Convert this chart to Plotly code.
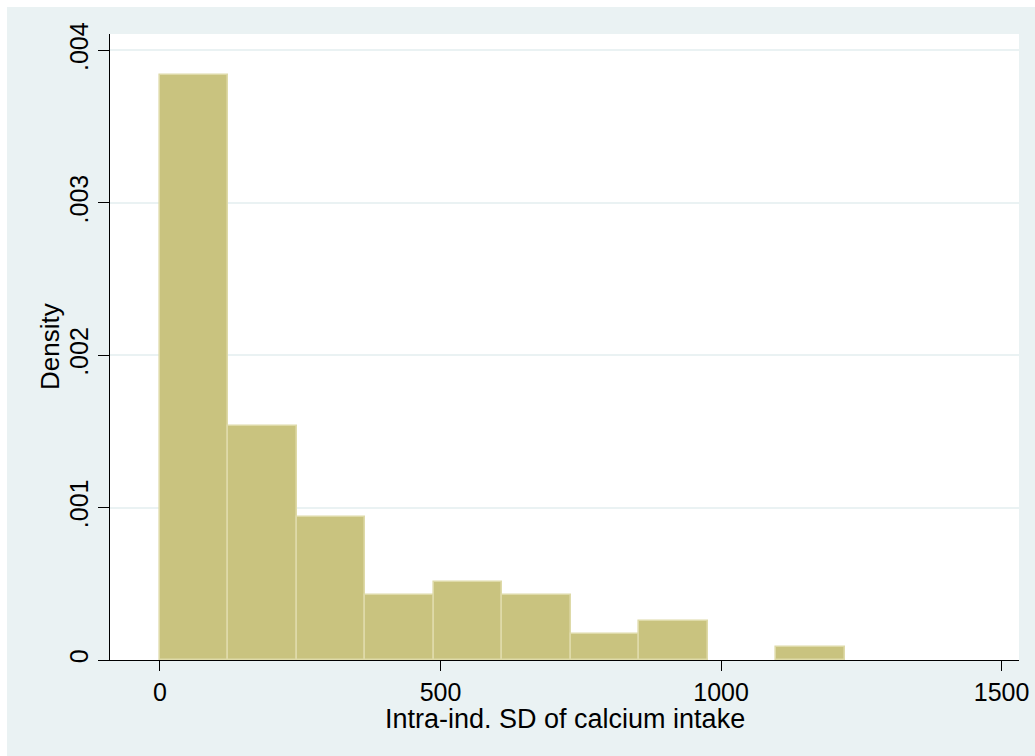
import plotly.graph_objects as go

# Histogram of intra-individual SD of calcium intake (N = 96, bin width 122)
bin_width = 122
bin_starts = [0, 122, 244, 366, 488, 610, 732, 854, 976, 1098]
counts = [45, 18, 11, 5, 6, 5, 2, 3, 0, 1]

y_tickvals = [0, 0.001, 0.002, 0.003, 0.004]
y_ticktext = ["0", ".001", ".002", ".003", ".004"]
x_tickvals = [0, 500, 1000, 1500]
x_ticktext = ["0", "500", "1000", "1500"]

x_title = "Intra-ind. SD of calcium intake"
y_title = "Density"

n_obs = sum(counts)
centers = [s + bin_width / 2 for s in bin_starts]
density = [c / (n_obs * bin_width) for c in counts]
# empty bins get no outline
edge_widths = [1.6 if c > 0 else 0 for c in counts]

OUTER_BG = "#EAF2F3"
FONT = "Liberation Sans, Arial, sans-serif"

fig = go.Figure()
fig.add_trace(go.Bar(
    x=centers,
    y=density,
    width=[bin_width] * len(centers),
    marker=dict(color="#C9C37F", line=dict(color="#DEDAA8", width=edge_widths)),
    hoverinfo="skip",
))

W, H = 1035, 756
ml, mr, mt, mb = 110, 16, 34, 96
pw, ph = W - ml - mr, H - mt - mb

# thin white strips at the top and left edges of the page
shapes = [
    dict(type="rect", xref="paper", yref="paper", layer="below",
         x0=-ml / pw - 0.01, x1=(W - ml) / pw + 0.01,
         y0=1 + (mt - 7) / ph, y1=1 + mt / ph + 0.01,
         fillcolor="white", line=dict(width=0)),
    dict(type="rect", xref="paper", yref="paper", layer="below",
         x0=-ml / pw - 0.01, x1=-(ml - 7) / pw,
         y0=-mb / ph - 0.01, y1=1 + mt / ph + 0.01,
         fillcolor="white", line=dict(width=0)),
]

# axis titles placed as annotations (pixel offsets from the plot area)
annotations = [
    dict(text=x_title, xref="paper", yref="paper", x=0.5, y=-59 / ph,
         xanchor="center", yanchor="middle", showarrow=False,
         font=dict(size=27)),
    dict(text=y_title, xref="paper", yref="paper", x=-60 / pw, y=0.5,
         xanchor="center", yanchor="middle", showarrow=False,
         textangle=-90, font=dict(size=26)),
]

fig.update_layout(
    width=W, height=H,
    margin=dict(l=ml, r=mr, t=mt, b=mb, autoexpand=False),
    paper_bgcolor=OUTER_BG,
    plot_bgcolor="white",
    showlegend=False,
    bargap=0,
    font=dict(family=FONT, color="black", size=25),
    shapes=shapes,
    annotations=annotations,
    xaxis=dict(
        range=[-89.1, 1531],
        tickvals=x_tickvals, ticktext=x_ticktext,
        ticks="outside", ticklen=10, tickwidth=1, tickcolor="black",
        showline=True, linecolor="black", linewidth=1,
        showgrid=False, zeroline=False,
        tickfont=dict(size=25),
    ),
    yaxis=dict(
        range=[0, 0.004108],
        tickvals=y_tickvals, ticktext=y_ticktext,
        tickangle=-90,
        ticks="outside", ticklen=11, tickwidth=1, tickcolor="black",
        showline=True, linecolor="black", linewidth=1,
        showgrid=True, gridcolor=OUTER_BG, gridwidth=2,
        zeroline=False,
        tickfont=dict(size=25),
    ),
)

fig.write_html("out.html")
